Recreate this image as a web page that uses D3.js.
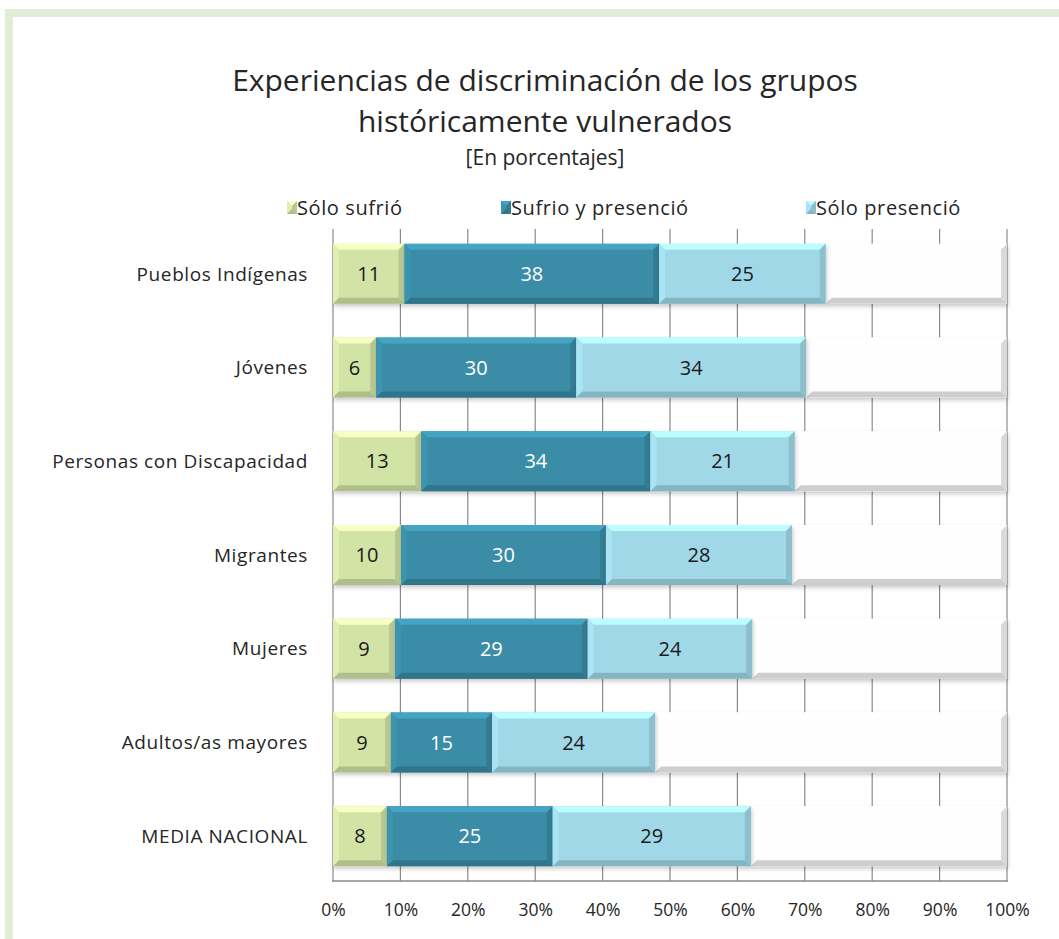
<!DOCTYPE html>
<html><head><meta charset="utf-8">
<script src="https://cdn.jsdelivr.net/npm/d3@7"></script>
<style>
html,body{margin:0;padding:0;background:#fff;}
svg{display:block;}
text{font-family:"Open Sans",sans-serif;fill:#262626;}
</style></head><body>
<svg id="c" width="1059" height="939"></svg>
<script>
const categories = ["Pueblos Indígenas","Jóvenes","Personas con Discapacidad","Migrantes","Mujeres","Adultos/as mayores","MEDIA NACIONAL"];
const seriesNames = ["Sólo sufrió","Sufrio y presenció","Sólo presenció"];
const soloSufrio = [10.6, 6.4, 13.1, 10.1, 9.2, 8.6, 8.0];
const sufrioPresencio = [37.8, 29.7, 34.0, 30.4, 28.6, 15.0, 24.6];
const soloPresencio = [24.7, 34.1, 21.4, 27.6, 24.4, 24.2, 29.4];
const tickValues = [0,10,20,30,40,50,60,70,80,90,100];
const colors = ["#d2e3a6","#3a8ca6","#a0d8e8"];
const textColors = ["#1a1a1a","#ffffff","#1a1a1a"];

const svg = d3.select("#c");
// frame
svg.append("rect").attr("x",5).attr("y",9).attr("width",1054).attr("height",8).attr("fill","#e2edd8");
svg.append("rect").attr("x",5).attr("y",9).attr("width",8).attr("height",930).attr("fill","#e2edd8");

const defs = svg.append("defs");
const f = defs.append("filter").attr("id","sh").attr("x","-5%").attr("y","-20%").attr("width","110%").attr("height","150%");
f.append("feDropShadow").attr("dx",1).attr("dy",2.5).attr("stdDeviation",2).attr("flood-color","#000").attr("flood-opacity",0.22);

// title
svg.append("text").attr("x",545).attr("y",91).attr("text-anchor","middle").attr("font-size",30).text("Experiencias de discriminación de los grupos");
svg.append("text").attr("x",545).attr("y",132).attr("text-anchor","middle").attr("font-size",30).text("históricamente vulnerados");
svg.append("text").attr("x",545).attr("y",165).attr("text-anchor","middle").attr("font-size",21).text("[En porcentajes]");

const x = d3.scaleLinear().domain([0,100]).range([333,1007]);
const y = d3.scaleBand().domain(categories).range([227,883]).paddingInner(0.36).paddingOuter(0.18);

// gridlines
const g = svg.append("g");
g.selectAll("line.grid").data(tickValues).join("line")
  .attr("x1",d=>x(d)).attr("x2",d=>x(d)).attr("y1",229).attr("y2",881)
  .attr("stroke","#8a8a8a").attr("stroke-width",1.2);
// floor strip
g.append("line").attr("x1",x(0)).attr("x2",x(100)).attr("y1",865).attr("y2",865).attr("stroke","#c8c8c8");
g.append("line").attr("x1",x(0)-1).attr("x2",x(100)+1).attr("y1",881).attr("y2",881).attr("stroke","#8a8a8a").attr("stroke-width",1.5);

// axis labels
const xAxis = d3.axisBottom(x).tickValues(tickValues).tickFormat(d=>d+"%").tickSize(0).tickPadding(0);
const ax = svg.append("g").attr("transform","translate(0,916)").call(xAxis);
ax.select(".domain").remove();
ax.selectAll("text").attr("font-size",17.5).attr("font-family","Open Sans,sans-serif").attr("fill","#262626").attr("dy",0);

const yAxis = d3.axisLeft(y).tickSize(0).tickPadding(0);
const ay = svg.append("g").attr("transform","translate(308,0)").call(yAxis);
ay.select(".domain").remove();
ay.selectAll("text").attr("font-size",19).attr("letter-spacing","0.6").attr("font-family","Open Sans,sans-serif").attr("fill","#262626").attr("dy","0.35em");

function bevelBar(sel, x0, x1, y0, h, color){
  const y1 = y0 + h;
  const w = x1 - x0;
  const b = Math.min(6, w/2);
  const c = d3.color(color);
  const gg = sel.append("g");
  gg.append("rect").attr("x",x0).attr("y",y0).attr("width",w).attr("height",h).attr("fill",color).attr("filter","url(#sh)");
  gg.append("polygon").attr("points",[[x0,y0],[x1,y0],[x1-b,y0+b],[x0+b,y0+b]].join(" ")).attr("fill",c.brighter(0.45));
  gg.append("polygon").attr("points",[[x0,y0],[x0+b,y0+b],[x0+b,y1-b],[x0,y1]].join(" ")).attr("fill",c.brighter(0.15));
  gg.append("polygon").attr("points",[[x1,y0],[x1-b,y0+b],[x1-b,y1-b],[x1,y1]].join(" ")).attr("fill",c.darker(0.35));
  gg.append("polygon").attr("points",[[x0,y1],[x1,y1],[x1-b,y1-b],[x0+b,y1-b]].join(" ")).attr("fill",c.darker(0.5));
  return gg;
}

const seriesArr = [soloSufrio, sufrioPresencio, soloPresencio];
const bars = svg.append("g");
categories.forEach((cat,i)=>{
  const y0 = y(cat), h = y.bandwidth();
  let cum = 0;
  const ends = [];
  seriesArr.forEach((s)=>{ ends.push([cum, cum + s[i]]); cum += s[i]; });
  // remainder white bar
  const wb = bevelBar(bars, x(cum), x(100), y0, h, "#f6f6f6");
  wb.select("rect").attr("fill","#fefefe");
  seriesArr.forEach((s,k)=>{
    const [a,bv] = ends[k];
    bevelBar(bars, x(a), x(bv), y0, h, colors[k]);
    bars.append("text").attr("x",(x(a)+x(bv))/2).attr("y",y0+h/2).attr("dy","0.36em")
      .attr("text-anchor","middle").attr("font-size",20).style("fill",textColors[k])
      .text(Math.round(s[i]));
  });
});

// legend
const legendX = [287, 501, 806];
const lg = svg.append("g");
seriesNames.forEach((n,k)=>{
  bevelBar(lg, legendX[k], legendX[k]+10, 201, 13, colors[k]).select("rect").attr("filter",null);
  lg.append("text").attr("x",legendX[k]+10).attr("y",208).attr("dy","0.35em").attr("font-size",20).attr("letter-spacing","0.6").text(n);
});
</script>
</body></html>
